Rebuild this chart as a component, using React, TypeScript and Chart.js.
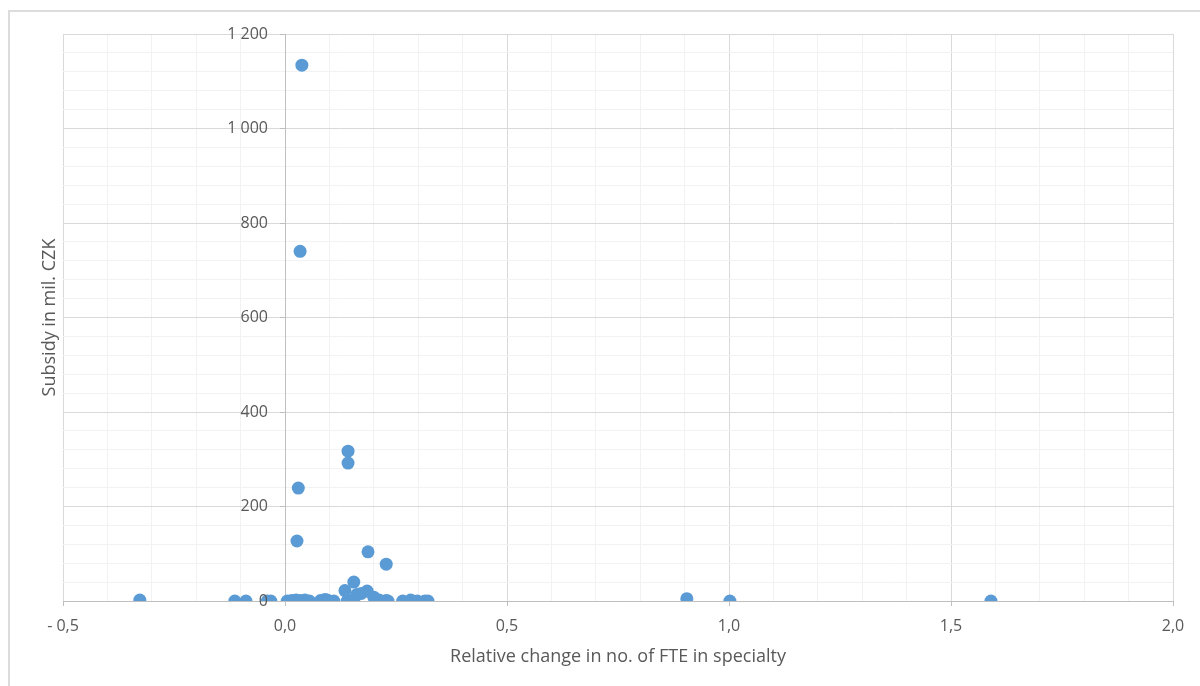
import React, { useEffect, useRef } from "react";
import { Chart, registerables } from "chart.js";

Chart.register(...registerables);

// Relative change in no. of FTE in specialty (x) and subsidy in mil. CZK (y)
const xValues: number[] = [
  0.038, 0.034, 0.030, 0.027, 0.142, 0.142, 0.187, 0.228, 0.155,
  -0.327, -0.113, -0.088, -0.040, -0.032, 0.005, 0.015, 0.025, 0.035, 0.045, 0.055,
  0.080, 0.090, 0.095, 0.110, 0.135, 0.140, 0.150, 0.155, 0.162, 0.172, 0.185,
  0.200, 0.212, 0.228, 0.232, 0.265, 0.283, 0.298, 0.315, 0.322,
  0.905, 1.002, 1.590,
];
const yValues: number[] = [
  1134, 740, 239, 127, 317, 292, 104, 78, 40,
  2, 0, 0, 0, 0, 0, 1, 2, 1, 2, 0,
  1, 3, 2, 0, 22, 0, 0, 3, 14, 16, 21,
  8, 2, 1, 0, 0, 2, 0, 0, 0,
  5, 0, 0,
];

const xMin = -0.5;
const xMax = 2.0;
const xMinorStep = 0.1;
const xMajorStep = 0.5;
const yMin = 0;
const yMax = 1200;
const yMinorStep = 40;
const yMajorStep = 200;

const xTitle = "Relative change in no. of FTE in specialty";
const yTitle = "Subsidy in mil. CZK";

const FONT = "'Open Sans', 'Noto Sans', sans-serif";
const TICK_SIZE = 16;
const TITLE_SIZE = 18;
const TEXT = "#595959";
const MAJOR = "#d9d9d9";
const MINOR = "#f2f2f2";
const AXIS = "#bfbfbf";
const POINT = "#5b9bd5";

const isMultiple = (v: number, step: number) =>
  Math.abs(v / step - Math.round(v / step)) < 1e-6;

const fmtX = (v: number) => {
  const s = Math.abs(v).toFixed(1).replace(".", ",");
  return v < -1e-9 ? "- " + s : s;
};
const fmtY = (v: number) => {
  const r = Math.round(v);
  if (r >= 1000) {
    return Math.floor(r / 1000) + " " + String(r % 1000).padStart(3, "0");
  }
  return String(r);
};

// y-axis title at the left of the frame and y tick labels beside the axis at x = 0
const yTextPlugin = {
  id: "yTextPlugin",
  afterDraw(chart: any) {
    const { ctx, chartArea } = chart;
    const xs = chart.scales.x;
    const ys = chart.scales.y;
    ctx.save();
    ctx.font = `${TICK_SIZE}px ${FONT}`;
    ctx.fillStyle = TEXT;
    ctx.textAlign = "right";
    ctx.textBaseline = "middle";
    const ax = xs.getPixelForValue(0);
    ys.ticks.forEach((t: any) => {
      if (isMultiple(t.value, yMajorStep)) {
        ctx.fillText(fmtY(t.value), ax - 17, ys.getPixelForValue(t.value));
      }
    });
    ctx.restore();

    ctx.save();
    ctx.translate(50, (chartArea.top + chartArea.bottom) / 2);
    ctx.rotate(-Math.PI / 2);
    ctx.font = `${TITLE_SIZE}px ${FONT}`;
    ctx.fillStyle = TEXT;
    ctx.textAlign = "center";
    ctx.textBaseline = "middle";
    ctx.fillText(yTitle, 0, 0);
    ctx.restore();
  },
};

export default function App() {
  const ref = useRef<HTMLCanvasElement | null>(null);

  useEffect(() => {
    if (!ref.current) return;
    const points = xValues.map((x, i) => ({ x, y: yValues[i] }));
    const chart = new Chart(ref.current, {
      type: "scatter",
      data: {
        datasets: [
          {
            data: points,
            backgroundColor: POINT,
            borderColor: POINT,
            borderWidth: 0,
            pointRadius: 6.5,
            pointHoverRadius: 6.5,
          },
        ],
      },
      options: {
        animation: false,
        responsive: false,
        maintainAspectRatio: false,
        layout: { padding: { left: 63, right: 27, top: 34, bottom: 0 } },
        plugins: {
          legend: { display: false },
          tooltip: { enabled: false },
          title: { display: false },
        },
        scales: {
          x: {
            type: "linear",
            position: "bottom",
            min: xMin,
            max: xMax,
            afterFit: (scale: any) => {
              scale.height = 85;
            },
            ticks: {
              stepSize: xMinorStep,
              autoSkip: false,
              maxRotation: 0,
              padding: 11,
              color: TEXT,
              font: { family: FONT, size: TICK_SIZE },
              callback: (v: any) => (isMultiple(Number(v), xMajorStep) ? fmtX(Number(v)) : ""),
            },
            grid: {
              color: (c: any) =>
                Math.abs(c.tick.value) < 1e-9
                  ? AXIS
                  : isMultiple(c.tick.value, xMajorStep)
                  ? MAJOR
                  : MINOR,
              tickColor: (c: any) =>
                isMultiple(c.tick.value, xMajorStep) ? AXIS : "rgba(0,0,0,0)",
              lineWidth: 1,
              tickLength: 5,
            },
            border: { display: true, color: AXIS, width: 1 },
            title: {
              display: true,
              text: xTitle,
              color: TEXT,
              font: { family: FONT, size: TITLE_SIZE },
              padding: { top: 0, bottom: 18 },
            },
          },
          y: {
            type: "linear",
            position: { x: 0 } as any,
            min: yMin,
            max: yMax,
            ticks: {
              stepSize: yMinorStep,
              autoSkip: false,
              padding: 12,
              color: "rgba(0,0,0,0)",
              font: { family: FONT, size: TICK_SIZE },
              callback: () => "",
            },
            grid: {
              color: (c: any) => (isMultiple(c.tick.value, yMajorStep) ? MAJOR : MINOR),
              tickColor: (c: any) =>
                isMultiple(c.tick.value, yMajorStep) ? AXIS : "rgba(0,0,0,0)",
              lineWidth: 1,
              tickLength: 5,
            },
            border: { display: true, color: AXIS, width: 1 },
          },
        },
      },
      plugins: [yTextPlugin],
    });
    return () => chart.destroy();
  }, []);

  return (
    <div
      style={{
        position: "absolute",
        left: 0,
        top: 0,
        width: 1200,
        height: 686,
        background: "#ffffff",
        overflow: "hidden",
      }}
    >
      <div
        style={{
          position: "absolute",
          left: 8,
          top: 10,
          width: 1200,
          height: 700,
          borderLeft: "2px solid #dcdcdc",
          borderTop: "2px solid #dcdcdc",
        }}
      />
      <canvas
        ref={ref}
        width={1200}
        height={686}
        style={{ position: "absolute", left: 0, top: 0, width: 1200, height: 686 }}
      />
    </div>
  );
}
